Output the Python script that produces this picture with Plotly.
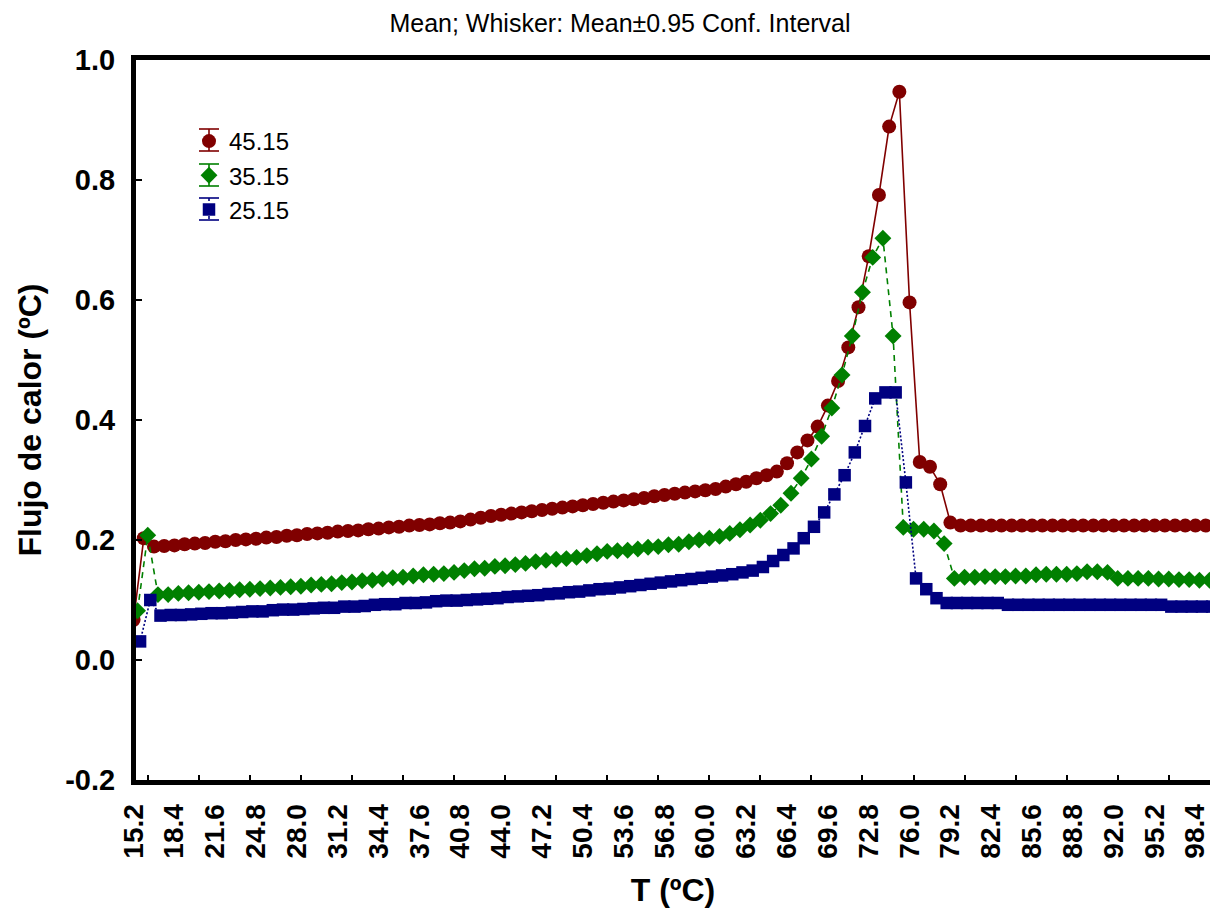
import plotly.graph_objects as go

# Temperature grid (ºC) shared by the three runs
T = [15.2, 16.0, 16.8, 17.6, 18.4, 19.2, 20.0, 20.8, 21.6, 22.4,
     23.2, 24.0, 24.8, 25.6, 26.4, 27.2, 28.0, 28.8, 29.6, 30.4,
     31.2, 32.0, 32.8, 33.6, 34.4, 35.2, 36.0, 36.8, 37.6, 38.4,
     39.2, 40.0, 40.8, 41.6, 42.4, 43.2, 44.0, 44.8, 45.6, 46.4,
     47.2, 48.0, 48.8, 49.6, 50.4, 51.2, 52.0, 52.8, 53.6, 54.4,
     55.2, 56.0, 56.8, 57.6, 58.4, 59.2, 60.0, 60.8, 61.6, 62.4,
     63.2, 64.0, 64.8, 65.6, 66.4, 67.2, 68.0, 68.8, 69.6, 70.4,
     71.2, 72.0, 72.8, 73.6, 74.4, 75.2, 76.0, 76.8, 77.6, 78.4,
     79.2, 80.0, 80.8, 81.6, 82.4, 83.2, 84.0, 84.8, 85.6, 86.4,
     87.2, 88.0, 88.8, 89.6, 90.4, 91.2, 92.0, 92.8, 93.6, 94.4,
     95.2, 96.0, 96.8, 97.6, 98.4, 99.2]

# Mean heat flow for each run
flujo_45 = [0.067, 0.203,
            0.189, 0.190, 0.191, 0.193, 0.194, 0.195, 0.197, 0.198, 0.200, 0.201,
            0.202, 0.204, 0.205, 0.207, 0.208, 0.210, 0.211, 0.212, 0.214, 0.215,
            0.216, 0.218, 0.219, 0.221, 0.222, 0.224, 0.225, 0.226, 0.228, 0.229,
            0.231, 0.234, 0.237, 0.240, 0.242, 0.244, 0.246, 0.248, 0.250, 0.252,
            0.254, 0.256, 0.258, 0.260, 0.262, 0.264, 0.266, 0.268, 0.270, 0.273,
            0.275, 0.277, 0.279, 0.281, 0.283, 0.285, 0.289, 0.293, 0.297, 0.303,
            0.308, 0.314, 0.328, 0.346, 0.366, 0.389, 0.424, 0.465, 0.521, 0.588,
            0.673, 0.775, 0.889, 0.947, 0.596, 0.330, 0.322, 0.293, 0.229, 0.224,
            0.224, 0.224, 0.224, 0.224, 0.224, 0.224, 0.224, 0.224, 0.224, 0.224,
            0.224, 0.224, 0.224, 0.224, 0.224, 0.224, 0.224, 0.224, 0.224, 0.224,
            0.224, 0.224, 0.224, 0.224]

flujo_35 = [0.082, 0.208,
            0.109, 0.109, 0.111, 0.112, 0.113, 0.114, 0.115, 0.116, 0.117, 0.118,
            0.119, 0.120, 0.121, 0.122, 0.123, 0.125, 0.126, 0.127, 0.129, 0.130,
            0.132, 0.133, 0.135, 0.137, 0.138, 0.140, 0.142, 0.143, 0.144, 0.146,
            0.149, 0.152, 0.153, 0.156, 0.157, 0.159, 0.161, 0.164, 0.166, 0.168,
            0.169, 0.171, 0.174, 0.177, 0.181, 0.182, 0.183, 0.185, 0.188, 0.189,
            0.192, 0.193, 0.197, 0.200, 0.203, 0.206, 0.211, 0.217, 0.225, 0.233,
            0.244, 0.258, 0.278, 0.303, 0.335, 0.373, 0.420, 0.475, 0.540, 0.613,
            0.671, 0.703, 0.540, 0.221, 0.218, 0.218, 0.215, 0.194, 0.136, 0.138,
            0.138, 0.139, 0.139, 0.139, 0.140, 0.140, 0.142, 0.143, 0.143, 0.143,
            0.144, 0.147, 0.147, 0.146, 0.136, 0.136, 0.136, 0.136, 0.135, 0.135,
            0.134, 0.134, 0.133, 0.133]

flujo_25 = [0.031, 0.100,
            0.074, 0.075, 0.075, 0.076, 0.077, 0.078, 0.078, 0.079, 0.080, 0.081,
            0.081, 0.083, 0.084, 0.084, 0.085, 0.086, 0.087, 0.087, 0.089, 0.089,
            0.090, 0.092, 0.093, 0.093, 0.095, 0.095, 0.096, 0.098, 0.099, 0.099,
            0.100, 0.101, 0.102, 0.103, 0.105, 0.106, 0.107, 0.108, 0.110, 0.111,
            0.113, 0.114, 0.116, 0.118, 0.119, 0.121, 0.123, 0.125, 0.127, 0.129,
            0.131, 0.133, 0.135, 0.137, 0.139, 0.141, 0.143, 0.146, 0.149, 0.155,
            0.165, 0.175, 0.186, 0.203, 0.222, 0.246, 0.276, 0.308, 0.346, 0.390,
            0.436, 0.446, 0.446, 0.296, 0.136, 0.118, 0.103, 0.095, 0.095, 0.095,
            0.095, 0.095, 0.095, 0.092, 0.092, 0.092, 0.092, 0.092, 0.092, 0.092,
            0.092, 0.092, 0.092, 0.092, 0.092, 0.092, 0.092, 0.092, 0.092, 0.089,
            0.089, 0.089, 0.089, 0.089]

series_names = ["45.15", "35.15", "25.15"]
series_values = [flujo_45, flujo_35, flujo_25]

x_tick_vals = T[::4]
x_tick_text = [f"{v:.1f}" for v in x_tick_vals]
y_tick_vals = [-0.2, 0.0, 0.2, 0.4, 0.6, 0.8, 1.0]
y_tick_text = ["-0.2", "0.0", "0.2", "0.4", "0.6", "0.8", "1.0"]

FONT = "Liberation Sans, Arial, sans-serif"
W, H = 1210, 911
M_L, M_R, M_T, M_B = 136, 0, 60, 131

styles = {
    "45.15": dict(color="#800000", symbol="circle", size=14, dash="solid", shift=-0.31),
    "35.15": dict(color="#008000", symbol="diamond", size=13, dash="6px,5px", shift=0.0),
    "25.15": dict(color="#000080", symbol="square", size=12.5, dash="2px,2px", shift=0.2),
}

fig = go.Figure()

for name, vals in zip(series_names, series_values):
    st = styles[name]
    fig.add_trace(go.Scatter(
        x=[t + st["shift"] for t in T], y=vals, name=name,
        mode="lines+markers", showlegend=False,
        line=dict(color=st["color"], width=1.6, dash=st["dash"]),
        marker=dict(color=st["color"], symbol=st["symbol"], size=st["size"],
                    line=dict(width=0)),
    ))

# legend entries (marker only; whiskers added as shapes)
for name in series_names:
    st = styles[name]
    fig.add_trace(go.Scatter(
        x=[None], y=[None], name=name, mode="markers",
        marker=dict(color=st["color"], symbol=st["symbol"], size=st["size"],
                    line=dict(width=0)),
    ))

plot_w = W - M_L - M_R
plot_h = H - M_T - M_B


def px_to_paper_x(px):
    return (px - M_L) / plot_w


def px_to_paper_y(py):
    return (H - M_B - py) / plot_h


# whisker glyphs behind the legend markers
legend_cx = 209
legend_cy = [140, 175, 209]
shapes = []
for name, cy in zip(series_names, legend_cy):
    st = styles[name]
    ln = dict(color=st["color"], width=1.6)
    lnv = dict(color=st["color"], width=1.6, dash="dot" if name == "25.15" else "solid")
    shapes.append(dict(type="line", xref="paper", yref="paper",
                       x0=px_to_paper_x(legend_cx), x1=px_to_paper_x(legend_cx),
                       y0=px_to_paper_y(cy - 11), y1=px_to_paper_y(cy + 11), line=lnv))
    for dy in (-11, 11):
        shapes.append(dict(type="line", xref="paper", yref="paper",
                           x0=px_to_paper_x(legend_cx - 10), x1=px_to_paper_x(legend_cx + 10),
                           y0=px_to_paper_y(cy + dy), y1=px_to_paper_y(cy + dy), line=ln))

fig.update_layout(
    width=W, height=H,
    margin=dict(l=M_L, r=M_R, t=M_T, b=M_B, autoexpand=False),
    paper_bgcolor="white", plot_bgcolor="white",
    font=dict(family=FONT, color="black"),
    title=dict(text="Mean; Whisker: Mean±0.95 Conf. Interval",
               font=dict(family=FONT, size=25, color="black"),
               x=620 / W, xref="container", xanchor="center",
               y=1 - 23 / H, yref="container", yanchor="middle"),
    legend=dict(x=px_to_paper_x(189), y=px_to_paper_y(119), xanchor="left", yanchor="top",
                bgcolor="rgba(0,0,0,0)", font=dict(family=FONT, size=24, color="black"),
                tracegroupgap=0, itemwidth=30),
    shapes=shapes,
    showlegend=True,
)

fig.update_xaxes(
    range=[15.08, 99.23], showgrid=False, zeroline=False,
    showline=True, linewidth=5, linecolor="black", mirror=True,
    tickmode="array", tickvals=x_tick_vals, ticktext=x_tick_text,
    tickangle=-90, ticks="", ticklabelstandoff=8, ticklabelshift=-4,
    ticklabeloverflow="allow",
    tickfont=dict(family=FONT, size=28, color="black", weight="bold"),
    minor=dict(tickmode="linear", tick0=16.0, dtick=4.0, ticks="inside",
               ticklen=5, tickwidth=2, tickcolor="black", showgrid=False),
    title=dict(text="T (ºC)", font=dict(family=FONT, size=32, color="black", weight="bold"),
               standoff=22),
)

fig.update_yaxes(
    range=[-0.2, 1.0], showgrid=False, zeroline=False,
    showline=True, linewidth=5, linecolor="black", mirror=False,
    tickmode="array", tickvals=y_tick_vals, ticktext=y_tick_text,
    ticks="inside", ticklen=6, tickwidth=2, tickcolor="black", ticklabelstandoff=10,
    tickfont=dict(family=FONT, size=29, color="black", weight="bold"),
    title=dict(text="Flujo de calor (ºC)",
               font=dict(family=FONT, size=32, color="black", weight="bold"),
               standoff=16),
)

fig.write_html("out.html")
